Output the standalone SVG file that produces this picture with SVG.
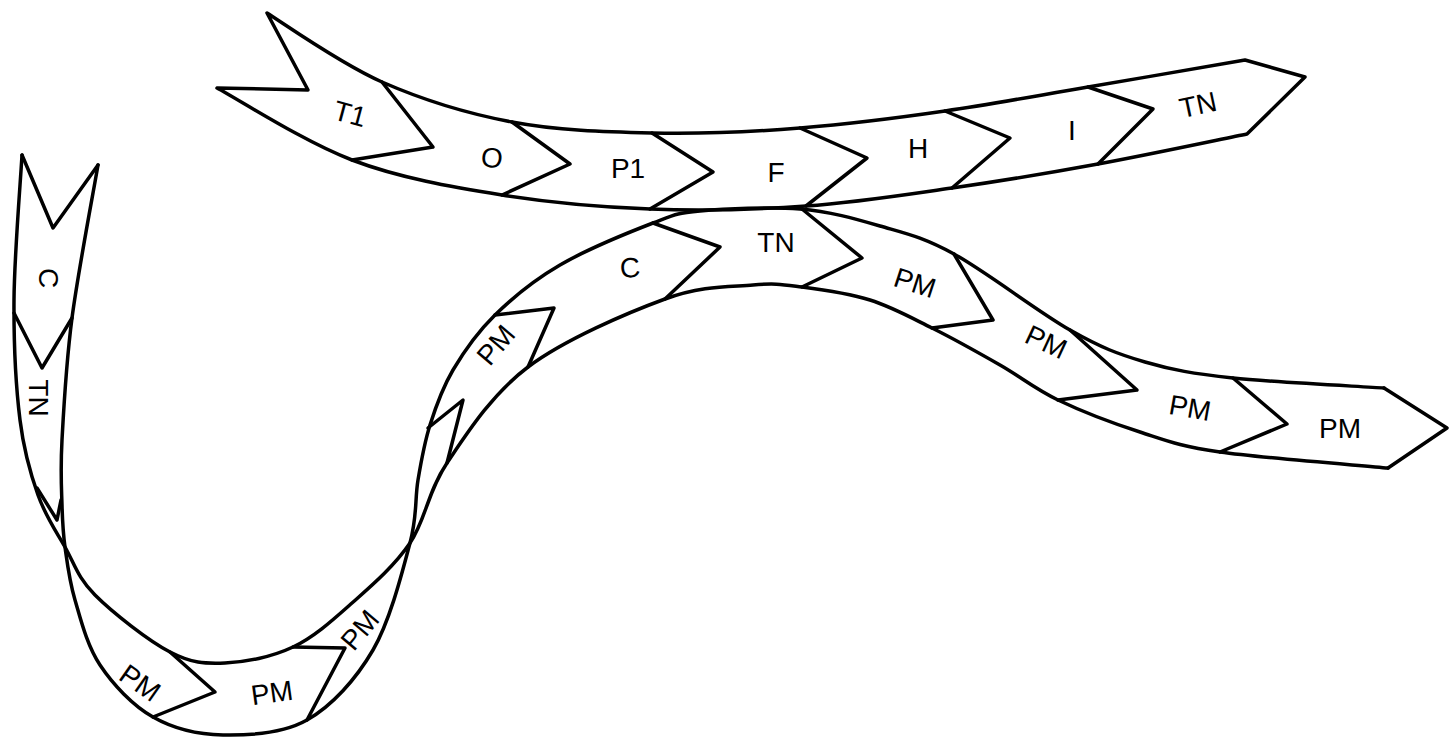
<svg xmlns="http://www.w3.org/2000/svg" width="1449" height="738" viewBox="0 0 1449 738">
<style>
.edge{fill:none;stroke:#000;stroke-width:3.5;stroke-linejoin:round;stroke-linecap:round}
.rib{fill:#fff;stroke:#000;stroke-width:3.5;stroke-linejoin:round}
.lbl{font-family:"Liberation Sans",Arial,sans-serif;font-size:28px;fill:#000;text-anchor:middle;dominant-baseline:central}
</style>
<rect width="1449" height="738" fill="#fff"/>
<g id="ribbon-top">
<path class="rib" d="M217,88 L308,90 L267,13 C286,25 341,64 382,82 C423,100 467,113.5 512,122 C557,130.5 604,132 652,133 C700,134 751,132 800,128 C849,124 897,118 945,111 C993,104 1038,95.5 1088,87 C1138,78.5 1219,64.5 1245,60 L1305,77 L1247,134 C1222,139 1147,155 1098,164 C1049,173 1001,181 952,188 C903,195 856,202.5 806,206 C756,209.5 701,211 650,209 C599,207 552,203 502,195 C452,187 399.5,178 352,160 C304.5,142 239.5,100 217,88 Z"/>
<polyline class="edge" points="382,82 433,147 352,160"/>
<polyline class="edge" points="512,122 570,164 502,195"/>
<polyline class="edge" points="652,133 713,172 650,209"/>
<polyline class="edge" points="800,128 867,158 806,206"/>
<polyline class="edge" points="945,111 1010,138 952,188"/>
<polyline class="edge" points="1088,87 1153,109 1098,164"/>
<text class="lbl" transform="translate(350,114) rotate(15)">T1</text>
<text class="lbl" transform="translate(492,158) rotate(5)">O</text>
<text class="lbl" transform="translate(628,168)">P1</text>
<text class="lbl" transform="translate(776,172)">F</text>
<text class="lbl" transform="translate(918,148)">H</text>
<text class="lbl" transform="translate(1072,130)">I</text>
<text class="lbl" transform="translate(1198,105) rotate(-12)">TN</text>
</g>
<g id="ribbon-long">
<path class="edge" d="M22,155 C20.7,179.2 14.3,255.8 14,300 C13.7,344.2 16,387.5 20,420 C24,452.5 30.5,473.8 38,495 C45.5,516.2 55.5,530.3 65,547 C74.5,563.7 77.5,577.5 95,595 C112.5,612.5 148.3,640.7 170,652 C191.7,663.3 204.5,663.8 225,663 C245.5,662.2 271.8,657 293,647 C314.2,637 332.5,620.3 352,603 C371.5,585.7 394.2,566.3 410,543 C425.8,519.7 427.3,492.3 447,463 C466.7,433.7 491.7,394.3 528,367 C564.3,339.7 627.5,312.7 665,299 C702.5,285.3 730.2,287 753,285 C775.8,283 782.5,284.5 802,287 C821.5,289.5 848.3,293.2 870,300 C891.7,306.8 910.3,317.2 932,328 C953.7,338.8 979,353 1000,365 C1021,377 1034.7,388.8 1058,400 C1081.3,411.2 1113,423.3 1140,432 C1167,440.7 1178.7,446 1220,452 C1261.3,458 1360,465.3 1388,468"/>
<path class="edge" d="M98,165 C93.7,190.5 78,272.2 72,318 C66,363.8 63.7,408.8 62,440 C60.3,471.2 61.5,487.2 62,505 C62.5,522.8 62.8,531.2 65,547 C67.2,562.8 69.2,580.3 75,600 C80.8,619.7 87,645.5 100,665 C113,684.5 132.5,705.3 153,717 C173.5,728.7 197.3,734.5 223,735 C248.7,735.5 282,734.2 307,720 C332,705.8 355.8,679.5 373,650 C390.2,620.5 402.5,571.3 410,543 C417.5,514.7 414.7,499.7 418,480 C421.3,460.3 424.2,443.3 430,425 C435.8,406.7 442.2,388.3 453,370 C463.8,351.7 477.2,332.5 495,315 C512.8,297.5 533.7,280.3 560,265 C586.3,249.7 629.7,232 653,223 C676.3,214 675.5,213.3 700,211 C724.5,208.7 770,206.5 800,209 C830,211.5 854.3,218.5 880,226 C905.7,233.5 922.3,236.7 954,254 C985.7,271.3 1038.2,312 1070,330 C1101.8,348 1117.8,354 1145,362 C1172.2,370 1193.2,373.7 1233,378 C1272.8,382.3 1358.8,386.3 1384,388"/>
<polyline class="edge" points="22,155 53,228 98,165"/>
<polyline class="edge" points="1384,388 1447,428 1388,468"/>
<polyline class="edge" points="14,313 42,368 72,318"/>
<polyline class="edge" points="37,488 57,520 61,500"/>
<polyline class="edge" points="170,652 215,692 153,717"/>
<polyline class="edge" points="293,647 345,648 307,720"/>
<polyline class="edge" points="428,428 463,400 447,463"/>
<polyline class="edge" points="495,315 554,308 528,367"/>
<polyline class="edge" points="653,223 720,247 665,299"/>
<polyline class="edge" points="802,209 862,258 802,287"/>
<polyline class="edge" points="954,254 993,320 932,328"/>
<polyline class="edge" points="1070,330 1137,390 1058,400"/>
<polyline class="edge" points="1233,378 1287,424 1220,452"/>
<text class="lbl" transform="translate(48,278) rotate(90)">C</text>
<text class="lbl" transform="translate(38,398) rotate(90)">TN</text>
<text class="lbl" transform="translate(140,683) rotate(35)">PM</text>
<text class="lbl" transform="translate(272,693) rotate(-8)">PM</text>
<text class="lbl" transform="translate(360,630) rotate(-50)">PM</text>
<text class="lbl" transform="translate(496,345) rotate(-50)">PM</text>
<text class="lbl" transform="translate(630,268) rotate(-5)">C</text>
<text class="lbl" transform="translate(776,242)">TN</text>
<text class="lbl" transform="translate(915,283) rotate(18)">PM</text>
<text class="lbl" transform="translate(1046,342) rotate(25)">PM</text>
<text class="lbl" transform="translate(1190,408) rotate(10)">PM</text>
<text class="lbl" transform="translate(1340,428)">PM</text>
</g>
</svg>
